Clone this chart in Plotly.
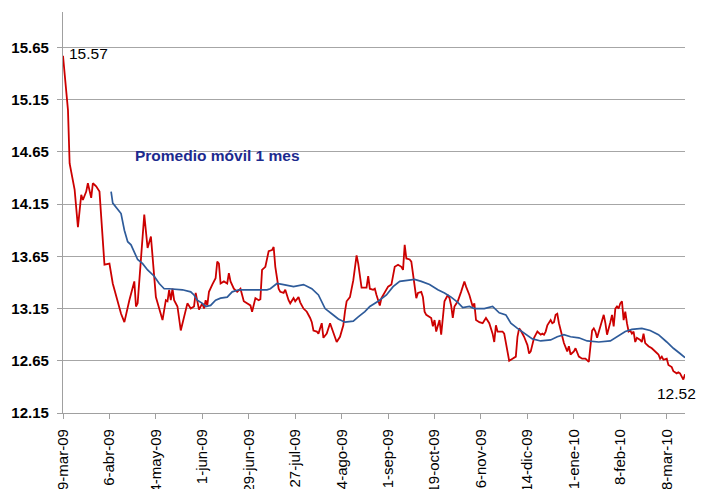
import pandas as pd
import plotly.graph_objects as go

start = pd.Timestamp("2009-03-09")

red_days = [0,2,3,4,7,9,11,12,14,15,
            17,18,20,22,25,28,30,35,37,40,
            43,44,45,49,51,53,56,58,60,62,
            63,64,65,66,67,69,71,75,77,79,
            80,82,84,85,86,87,88,90,92,93,
            94,95,97,99,100,101,103,105,107,109,
            111,113,114,116,118,119,120,122,124,126,
            127,128,130,131,133,134,136,137,139,140,
            142,143,145,147,149,150,151,153,154,156,
            157,159,161,163,164,165,167,169,170,171,
            173,175,177,178,180,183,184,185,187,188,
            189,191,192,194,196,198,199,200,202,204,
            205,206,207,209,210,211,212,213,214,216,
            217,218,219,221,222,223,224,225,227,228,
            229,230,232,233,234,235,236,238,240,242,
            243,245,247,248,249,251,253,254,255,257,
            258,259,260,261,262,265,266,268,269,271,
            273,274,275,276,278,280,281,282,283,284,
            285,286,288,289,290,291,292,294,295,296,
            297,298,299,301,302,304,305,306,308,309,
            310,311,313,315,317,318,319,320,321,322,
            324,325,326,327,328,330,331,332,333,334,
            335,336,337,338,339,340,341,342,343,344,
            345,346,348,349,350,351,353,355,357,359,
            360,361,362,364,365,367,368,370,371,372,
            374,375]
red_vals = [15.57,15.24,15.05,14.54,14.29,13.93,14.24,14.19,14.27,14.35,
            14.21,14.35,14.32,14.27,13.57,13.58,13.39,13.10,13.02,13.23,
            13.41,13.17,13.20,14.05,13.73,13.84,13.26,13.15,13.04,13.23,
            13.22,13.33,13.23,13.34,13.23,13.17,12.94,13.20,13.15,13.17,
            13.30,13.14,13.20,13.15,13.23,13.18,13.31,13.38,13.44,13.60,
            13.58,13.39,13.41,13.39,13.49,13.41,13.34,13.31,13.34,13.22,
            13.20,13.18,13.12,13.25,13.23,13.24,13.52,13.55,13.70,13.71,
            13.74,13.55,13.34,13.31,13.30,13.33,13.23,13.20,13.25,13.22,
            13.26,13.21,13.15,13.12,13.06,13.02,12.94,12.93,12.91,13.01,
            12.87,12.91,13.01,12.91,12.88,12.83,12.88,12.99,13.12,13.22,
            13.26,13.42,13.66,13.58,13.35,13.35,13.46,13.34,13.33,13.34,
            13.28,13.18,13.25,13.31,13.36,13.38,13.46,13.55,13.57,13.55,
            13.52,13.76,13.63,13.62,13.60,13.47,13.39,13.25,13.30,13.31,
            13.26,13.12,13.09,13.07,13.06,12.98,13.04,12.93,13.04,12.90,
            13.06,13.22,13.28,13.25,13.18,13.06,13.17,13.22,13.31,13.41,
            13.36,13.28,13.17,13.20,13.04,13.02,13.01,13.04,13.06,13.01,
            12.96,12.91,12.83,12.99,12.93,12.93,12.91,12.74,12.65,12.67,
            12.69,12.88,12.96,12.94,12.88,12.80,12.72,12.74,12.80,12.87,
            12.90,12.93,12.90,12.91,12.90,12.93,12.99,13.04,13.01,13.02,
            13.09,13.10,13.01,12.90,12.82,12.74,12.79,12.71,12.74,12.77,
            12.72,12.69,12.67,12.67,12.64,12.83,12.94,12.96,12.93,12.87,
            12.98,13.06,13.09,13.01,12.90,13.02,13.09,12.98,13.15,13.17,
            13.15,13.20,13.22,13.04,13.12,13.01,12.93,12.94,12.91,12.93,
            12.83,12.87,12.85,12.83,12.91,12.82,12.79,12.77,12.74,12.71,
            12.67,12.69,12.66,12.67,12.61,12.59,12.55,12.53,12.54,12.53,
            12.47,12.52]

ma_days = [29,30,35,37,39,41,45,48,51,55,
           58,61,64,72,77,79,81,84,86,89,
           92,95,99,102,106,115,123,125,129,133,
           139,145,150,154,158,162,166,170,175,178,
           182,185,190,195,199,203,207,212,216,221,
           226,230,234,238,241,245,248,254,259,263,
           267,270,274,279,283,288,294,298,302,306,
           311,316,323,330,334,339,343,349,354,359,
           364,368,372,375]
ma_vals = [14.27,14.16,14.06,13.90,13.79,13.76,13.62,13.58,13.52,13.46,
           13.39,13.34,13.34,13.33,13.31,13.28,13.23,13.20,13.17,13.18,
           13.23,13.25,13.26,13.31,13.33,13.33,13.33,13.34,13.39,13.38,
           13.36,13.38,13.34,13.28,13.15,13.10,13.05,13.02,13.03,13.07,
           13.12,13.17,13.22,13.28,13.36,13.41,13.42,13.43,13.41,13.38,
           13.33,13.30,13.26,13.21,13.16,13.17,13.15,13.15,13.17,13.11,
           13.09,13.01,12.96,12.90,12.86,12.84,12.85,12.88,12.90,12.88,
           12.87,12.84,12.83,12.84,12.88,12.93,12.95,12.96,12.94,12.90,
           12.83,12.77,12.72,12.68]

tick_dates = ["2009-03-09","2009-04-06","2009-05-04","2009-06-01","2009-06-29",
              "2009-07-27","2009-08-24","2009-09-21","2009-10-19","2009-11-16",
              "2009-12-14","2010-01-11","2010-02-08","2010-03-08"]
tick_labels = ["9-mar-09","6-abr-09","4-may-09","1-jun-09","29-jun-09",
               "27-jul-09","24-ago-09","21-sep-09","19-oct-09","16-nov-09",
               "14-dic-09","11-ene-10","8-feb-10","8-mar-10"]
y_ticks = [12.15, 12.65, 13.15, 13.65, 14.15, 14.65, 15.15, 15.65]

red_x = [start + pd.Timedelta(days=d) for d in red_days]
ma_x = [start + pd.Timedelta(days=d) for d in ma_days]

FONT = "Liberation Sans, Arial, sans-serif"

fig = go.Figure()
fig.add_trace(go.Scatter(x=red_x, y=red_vals, mode="lines",
                         line=dict(color="#CC0000", width=1.8), hoverinfo="skip"))
fig.add_trace(go.Scatter(x=ma_x, y=ma_vals, mode="lines",
                         line=dict(color="#2E5B9A", width=1.7), hoverinfo="skip"))

fig.add_annotation(x=red_x[0], y=red_vals[0], xref="x", yref="y",
                   text="15.57", showarrow=False, xanchor="left", yanchor="middle",
                   xshift=4, yshift=2, font=dict(family=FONT, size=15.5, color="#000000"))
fig.add_annotation(x=red_x[-1], y=red_vals[-1], xref="x", yref="y",
                   text="12.52", showarrow=False, xanchor="right", yanchor="middle",
                   xshift=13, yshift=-19, font=dict(family=FONT, size=15.5, color="#000000"))
fig.add_annotation(x=0.1125, y=0.643, xref="paper", yref="paper",
                   text="<b>Promedio móvil 1 mes</b>", showarrow=False,
                   xanchor="left", yanchor="middle",
                   font=dict(family=FONT, size=15.5, color="#1C2A8E"))

# the page body adds an 8px offset, so the figure is sized to end at the window edge
fig.update_layout(
    width=697, height=481,
    margin=dict(l=55, r=20, t=4, b=76),
    paper_bgcolor="white", plot_bgcolor="white",
    showlegend=False,
    font=dict(family=FONT, color="#000000"),
)
fig.update_xaxes(
    type="date", automargin=False,
    range=[start, start + pd.Timedelta(days=375)],
    tickmode="array", tickvals=tick_dates, ticktext=tick_labels,
    tickangle=-90, tickfont=dict(family=FONT, size=15, color="#000000"),
    showgrid=False, zeroline=False,
    showline=True, linecolor="#A0A0A0", linewidth=1.3,
    ticks="outside", ticklen=5, tickcolor="#A0A0A0", tickwidth=1.3,
    ticklabelstandoff=4,
)
fig.update_yaxes(
    automargin=False,
    range=[12.15, 15.99],
    tickmode="array", tickvals=y_ticks, ticktext=[f"<b>{v:.2f}</b>" for v in y_ticks],
    tickfont=dict(family=FONT, size=15, color="#000000"),
    showgrid=True, gridcolor="#A6A6A6", gridwidth=1.4,
    zeroline=False,
    showline=True, linecolor="#A0A0A0", linewidth=1.3,
    ticks="outside", ticklen=5, tickcolor="#A0A0A0", tickwidth=1.3,
    ticklabelstandoff=5,
)

fig.write_html("out.html")
